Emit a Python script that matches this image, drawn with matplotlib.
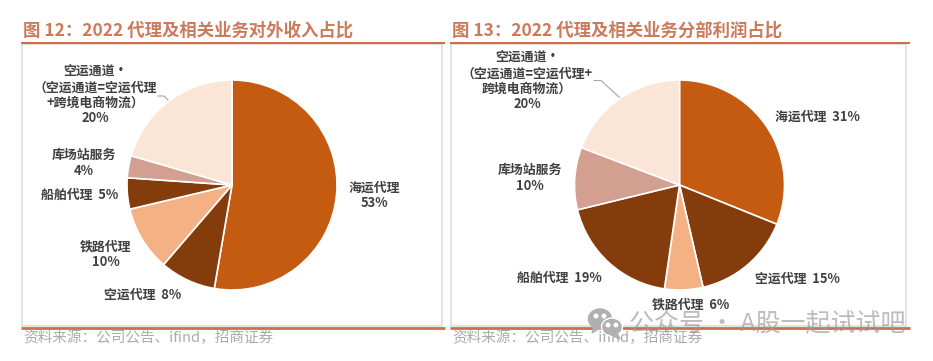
import matplotlib
matplotlib.use("Agg")
import matplotlib.pyplot as plt
from matplotlib.patches import Ellipse, Polygon, Rectangle

plt.rcParams['font.family'] = ['Noto Sans CJK SC', 'DejaVu Sans']

W, H = 933, 361

title_left = "图 12\uff1a2022 代理及相关业务对外收入占比"
title_right = "图 13\uff1a2022 代理及相关业务分部利润占比"
source = "资料来源\uff1a公司公告\u3001ifind\uff0c招商证券"
watermark = "公众号 · A股一起试试吧"

categories = ["海运代理", "空运代理", "铁路代理", "船舶代理", "库场站服务", "空运通道"]
# slice sizes as measured on the picture, the printed labels are rounded
income_share = [52.7, 8.6, 10.0, 4.8, 3.4, 20.5]
profit_share = [31.1, 15.3, 5.9, 18.9, 9.6, 19.2]
colors = ["#C55A11", "#843C0C", "#F4B183", "#843C0C", "#D29F91", "#FBE5D6"]

# label text and pixel centre (x, y from top)
labels_left = [
    ("空运通道•\n\uff08空运通道=空运代理\n+跨境电商物流\uff09\n20%", 95, 95),
    ("库场站服务\n4%", 84, 163),
    ("船舶代理  5%", 80, 195),
    ("铁路代理\n10%", 106, 254),
    ("空运代理  8%", 143, 295),
    ("海运代理\n53%", 374, 195),
]
labels_right = [
    ("空运通道•\n\uff08空运通道=空运代理+\n跨境电商物流\uff09\n20%", 527, 81),
    ("库场站服务\n10%", 530, 178),
    ("船舶代理  19%", 559, 278),
    ("铁路代理  6%", 691, 305),
    ("空运代理  15%", 797, 279),
    ("海运代理  31%", 817, 117),
]

ink = "#404040"
rule = "#CB6F4E"
frame = "#DEDEDE"


def add_pie(fig, cx, cy, r, values):
    ax = fig.add_axes([(cx - r) / W, 1 - (cy + r) / H, 2 * r / W, 2 * r / H])
    ax.pie(values, colors=colors, startangle=90, counterclock=False, radius=1,
           wedgeprops=dict(edgecolor="white", linewidth=1.2))
    ax.set_xlim(-1, 1)
    ax.set_ylim(-1, 1)
    ax.set_zorder(1)
    return ax


fig = plt.figure(figsize=(W / 100, H / 100), dpi=100)
bg = fig.add_axes([0, 0, 1, 1])
bg.set_xlim(0, W)
bg.set_ylim(H, 0)
bg.axis("off")

# panel frames and rules
for x0, x1, x2 in [(22, 442, 445), (451, 906, 910)]:
    bg.add_patch(Rectangle((x0, 44), x1 - x0, 282, fill=False, ec=frame, lw=1.2))
    bg.plot([x0 - 1, x2], [43, 43], color=rule, lw=1.5, solid_capstyle="butt")
    bg.plot([x0 - 1, x2], [327.5, 327.5], color=rule, lw=2, solid_capstyle="butt")

bg.text(23, 31, title_left, color="#CB7A5C", fontsize=12.5, fontweight="bold", va="center")
bg.text(452, 31, title_right, color="#CB7A5C", fontsize=12.5, fontweight="bold", va="center")
bg.text(23, 338, source, color="#ABABAB", fontsize=10.5, va="center")
bg.text(452, 338, source, color="#ABABAB", fontsize=10.5, va="center")

add_pie(fig, 232, 185, 105, income_share)
add_pie(fig, 679.5, 185, 105, profit_share)

# leader lines of the 20% labels
bg.plot([158, 164, 169], [96, 96, 101], color="#A6A6A6", lw=0.8)
bg.plot([594, 601, 620], [80.5, 80.5, 98], color="#A6A6A6", lw=0.8)

for text, x, y in labels_left + labels_right:
    bg.text(x, y, text, color=ink, fontsize=9.3, fontweight="bold", ha="center", va="center",
            linespacing=1.13, zorder=5)

# watermark, drawn over everything
over = fig.add_axes([0, 0, 1, 1])
over.set_xlim(0, W)
over.set_ylim(H, 0)
over.axis("off")
over.set_zorder(3)
gray = "#B0B0B0"
over.add_patch(Ellipse((600, 319), 23, 20, color=gray))
over.add_patch(Polygon([[594, 326], [592, 333], [600, 328]], color=gray))
over.add_patch(Ellipse((612, 327), 21, 18, color=gray, ec="white", lw=1))
over.add_patch(Polygon([[617, 333], [620, 339], [611, 335]], color=gray))
for ex, ey in [(596, 316), (604, 316), (608, 325), (616, 325)]:
    over.add_patch(Ellipse((ex, ey), 3.5, 3.5, color="white"))
over.text(629, 324, watermark, color="#999999", alpha=0.65, fontsize=18, va="center")

fig.savefig("out.png", dpi=100)
